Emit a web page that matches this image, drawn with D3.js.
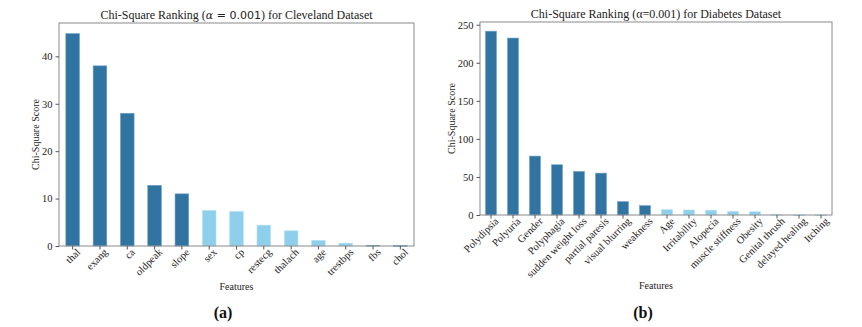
<!DOCTYPE html>
<html>
<head>
<meta charset="utf-8">
<script src="https://cdn.jsdelivr.net/npm/d3@7"></script>
<style>
  body { margin: 0; background: #fff; }
  svg { font-family: "Liberation Serif", "Times New Roman", serif; }
</style>
</head>
<body>
<div id="chart"></div>
<script>
// Cleveland dataset
const clevFeatures = ["thal", "exang", "ca", "oldpeak", "slope", "sex", "cp", "restecg", "thalach", "age", "trestbps", "fbs", "chol"];
const clevScores   = [44.8, 38.0, 28.0, 12.8, 11.0, 7.5, 7.3, 4.4, 3.2, 1.2, 0.6, 0.15, 0.1];
const clevSignificant = [true, true, true, true, true, false, false, false, false, false, false, true, true];
const clevTicks = [0, 10, 20, 30, 40];

// Diabetes dataset
const diabFeatures = ["Polydipsia", "Polyuria", "Gender", "Polyphagia", "sudden weight loss", "partial paresis",
    "visual blurring", "weakness", "Age", "Irritability", "Alopecia", "muscle stiffness", "Obesity",
    "Genital thrush", "delayed healing", "Itching"];
const diabScores   = [241.5, 232.5, 77.4, 66.0, 57.2, 55.0, 17.6, 12.3, 7.0, 6.6, 6.3, 4.9, 4.3, 0.9, 0.1, 0.05];
const diabSignificant = [true, true, true, true, true, true, true, true, false, false, false, false, false, false, false, false];
const diabTicks = [0, 50, 100, 150, 200, 250];

const darkBlue = "#3173a1", lightBlue = "#8ecfeb";
const serif = "'Liberation Serif', 'Times New Roman', serif";

const W = 862, H = 327;
const svg = d3.select("#chart").append("svg")
    .attr("width", W).attr("height", H)
    .attr("viewBox", `0 0 ${W} ${H}`);

let drawPanel = (p) => {
    let data = p.features.map((f, i) => ({name: f, value: p.scores[i], sig: p.sig[i]}));
    let g = svg.append("g");

    let x = d3.scaleBand()
        .domain(p.features)
        .range([p.left, p.right])
        .paddingInner(0.5)
        .paddingOuter(0.25);

    let y = d3.scaleLinear()
        .domain([0, d3.max(p.scores) * 1.05])
        .range([p.bottom, p.top]);

    // bars
    g.append("g").selectAll("rect")
        .data(data)
        .join("rect")
        .attr("x", d => x(d.name))
        .attr("y", d => y(d.value))
        .attr("width", x.bandwidth())
        .attr("height", d => Math.max(y(0) - y(d.value), 0.8))
        .attr("fill", d => d.sig ? darkBlue : lightBlue)
        .attr("stroke", d => d.sig ? "#6fa3c8" : "#b9e2f4")
        .attr("stroke-width", 0.6);

    // frame
    g.append("rect")
        .attr("x", p.left).attr("y", p.top)
        .attr("width", p.right - p.left).attr("height", p.bottom - p.top)
        .attr("fill", "none").attr("stroke", "#8a8a8a").attr("stroke-width", 1);

    // x axis
    let xAxis = g.append("g")
        .attr("transform", `translate(0, ${p.bottom})`)
        .call(d3.axisBottom(x).tickSizeOuter(0).tickSize(3.5).tickPadding(2))
        .attr("font-family", serif);
    xAxis.select(".domain").remove();
    xAxis.selectAll(".tick line").attr("stroke", "#555");
    xAxis.selectAll("text")
        .attr("font-size", 10.5)
        .attr("fill", "#222")
        .style("text-anchor", "end")
        .attr("dx", "0.1em")
        .attr("dy", "0.5em")
        .attr("transform", "rotate(-45)");

    // y axis
    let yAxis = g.append("g")
        .attr("transform", `translate(${p.left}, 0)`)
        .call(d3.axisLeft(y).tickValues(p.ticks).tickSize(3.5).tickPadding(3))
        .attr("font-family", serif);
    yAxis.select(".domain").remove();
    yAxis.selectAll(".tick line").attr("stroke", "#555");
    yAxis.selectAll("text").attr("font-size", 10.5).attr("fill", "#222");

    // y label
    g.append("text")
        .attr("transform", `translate(${p.yLabelX}, ${(p.top + p.bottom) / 2}) rotate(-90)`)
        .attr("text-anchor", "middle")
        .attr("font-size", 10)
        .attr("fill", "#222")
        .text("Chi-Square Score");

    // x label
    g.append("text")
        .attr("x", (p.left + p.right) / 2)
        .attr("y", p.xLabelY)
        .attr("text-anchor", "middle")
        .attr("font-size", 10)
        .attr("fill", "#222")
        .text("Features");

    // title
    let title = g.append("text")
        .attr("x", (p.left + p.right) / 2)
        .attr("y", p.top - 4)
        .attr("text-anchor", "middle")
        .attr("font-size", 12)
        .attr("fill", "#222");
    p.title(title);

    // caption
    g.append("text")
        .attr("x", p.captionX)
        .attr("y", 318)
        .attr("text-anchor", "middle")
        .attr("font-size", 16)
        .attr("font-weight", "bold")
        .attr("fill", "#111")
        .text(p.caption);
};

drawPanel({
    features: clevFeatures, scores: clevScores, sig: clevSignificant, ticks: clevTicks,
    left: 59, right: 414, top: 23, bottom: 246,
    yLabelX: 39, xLabelY: 290, captionX: 223, caption: "(a)",
    title: t => {
        t.append("tspan").text("Chi-Square Ranking (");
        t.append("tspan").attr("font-family", "DejaVu Serif").attr("font-style", "italic").attr("font-size", 11).text("α");
        t.append("tspan").attr("font-family", "DejaVu Sans").attr("font-size", 11).text(" = 0.001");
        t.append("tspan").text(") for Cleveland Dataset");
    }
});

drawPanel({
    features: diabFeatures, scores: diabScores, sig: diabSignificant, ticks: diabTicks,
    left: 480, right: 832, top: 22, bottom: 215,
    yLabelX: 455, xLabelY: 289, captionX: 643, caption: "(b)",
    title: t => t.text("Chi-Square Ranking (α=0.001) for Diabetes Dataset")
});
</script>
</body>
</html>
